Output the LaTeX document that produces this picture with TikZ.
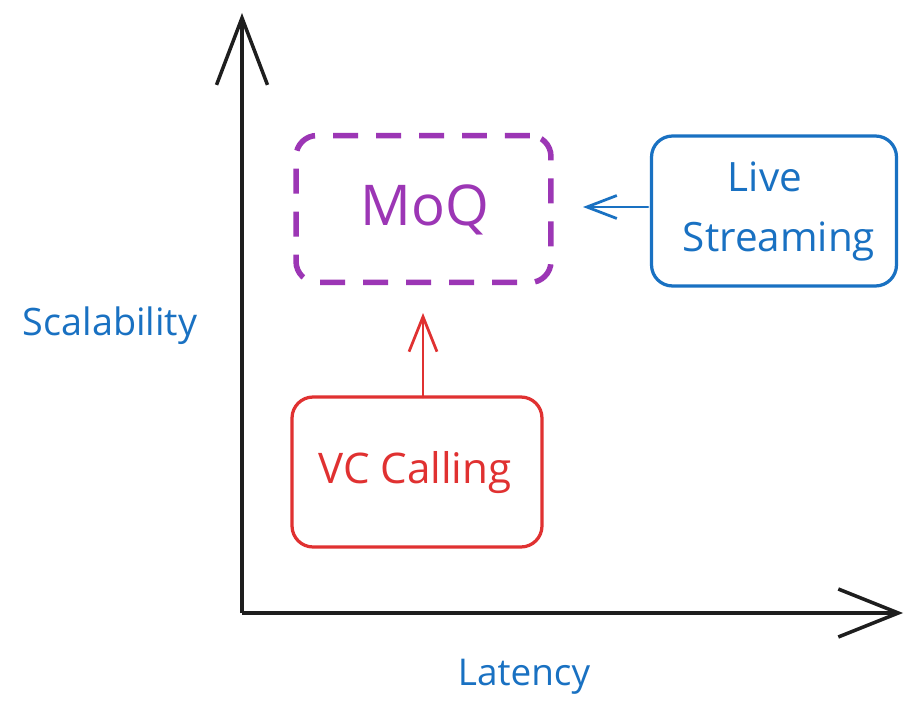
\documentclass[tikz,border=0pt]{standalone}
\usepackage{fontspec}
\setmainfont{Open Sans}
\usetikzlibrary{arrows.meta}
\definecolor{xblue}{HTML}{1971C2}
\definecolor{xred}{HTML}{E03131}
\definecolor{xpurple}{HTML}{9C36B5}
\definecolor{xblack}{HTML}{1E1E1E}
\tikzset{
  axis/.style={draw=xblack, line width=0.07cm},
  card/.style={line width=0.065cm, rounded corners=0.42cm, inner sep=0pt},
  lbl/.style={inner sep=0pt, align=center},
  conn/.style={line width=0.055cm, line cap=round}
}
\begin{document}
\begin{tikzpicture}[x=0.02cm,y=-0.02cm]
\useasboundingbox[fill=white] (0,0) rectangle (905,702);
% axes
\coordinate (origin) at (242,613);
\coordinate (ytop) at (242,13);
\coordinate (xend) at (903,613);
\draw[axis, -{Straight Barb[length=1.34cm,width=1.02cm,line width=0.07cm]}] (origin) -- (ytop);
\draw[axis, -{Straight Barb[length=1.2cm,width=0.96cm,line width=0.07cm]}] (origin) -- (xend);
% boxes
\node[card, draw=xpurple, line width=0.11cm, dash pattern=on 0.5cm off 0.36cm, minimum width=5.1cm, minimum height=2.94cm] (moq) at (423.5,209) {};
\node[card, draw=xblue, minimum width=4.9cm, minimum height=3.0cm] (live) at (774,211) {};
\node[card, draw=xred, minimum width=5.0cm, minimum height=3.0cm] (vc) at (417,472) {};
% texts
\node[lbl, text=xpurple, font=\fontsize{32}{38}\selectfont] (moqt) at (425,210) {MoQ};
\node[lbl, text=xblue, font=\fontsize{23}{30}\selectfont, anchor=base] (livet) at (765,192) {Live};
\node[lbl, text=xblue, font=\fontsize{23}{30}\selectfont, anchor=base] (streamt) at (779,252) {Streaming};
\node[lbl, text=xred, font=\fontsize{24}{30}\selectfont, anchor=base] (vct) at (415,483) {VC Calling};
\node[lbl, text=xblue, font=\fontsize{21.5}{26}\selectfont, anchor=base] (scal) at (110,335) {Scalability};
\node[lbl, text=xblue, font=\fontsize{21}{26}\selectfont, anchor=base] (lat) at (524,685) {Latency};
% connectors
\coordinate (liveTail) at (648,207);
\coordinate (liveTip) at (583,207);
\draw[conn, xblue, -{Straight Barb[length=0.6cm,width=0.46cm,line width=0.055cm]}] (liveTail) -- (liveTip);
\coordinate (vcTail) at (423,397);
\coordinate (vcTip) at (423,313);
\draw[conn, xred, -{Straight Barb[length=0.7cm,width=0.56cm,line width=0.055cm]}] (vcTail) -- (vcTip);
\end{tikzpicture}
\end{document}
